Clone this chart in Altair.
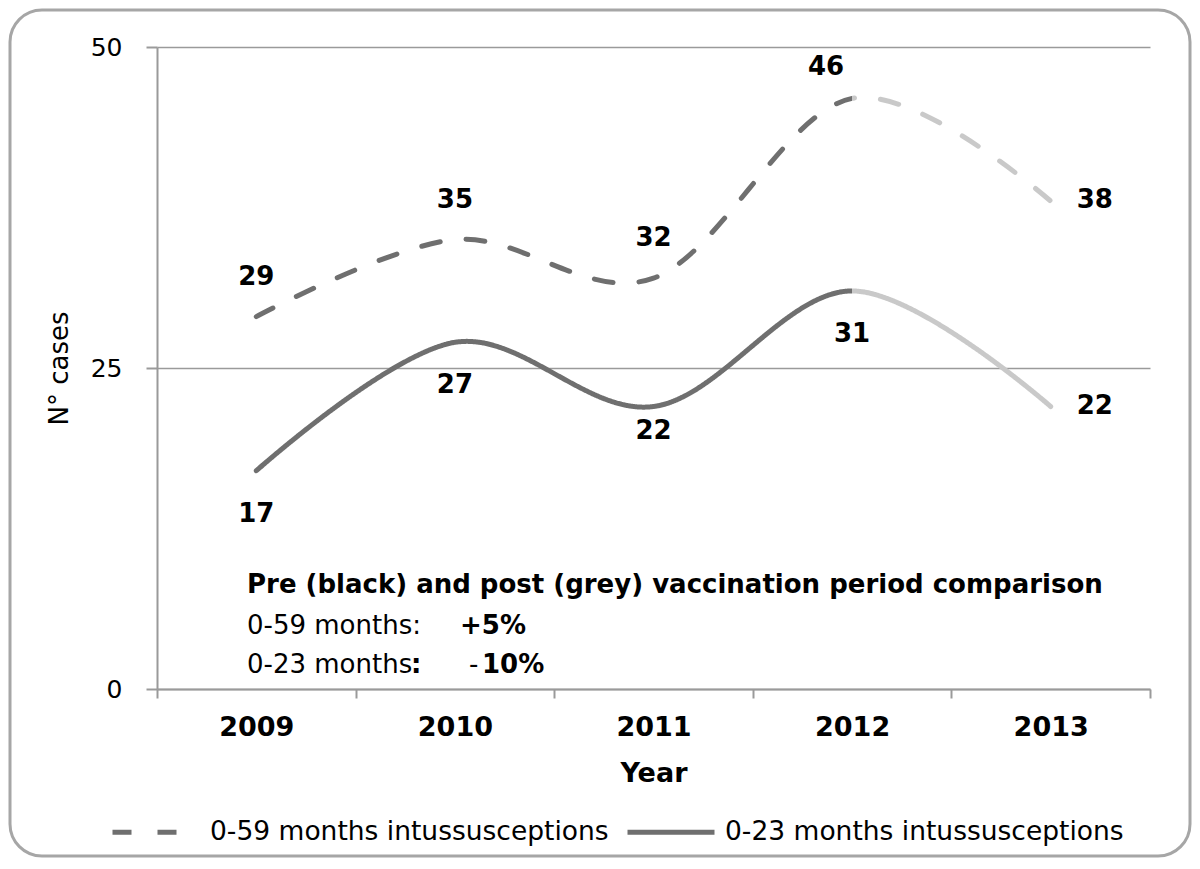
import altair as alt
import pandas as pd

# ---------------- data ----------------
years = [2009, 2010, 2011, 2012, 2013]
cases_0_59 = [29, 35, 32, 46, 38]
cases_0_23 = [17, 27, 22, 31, 22]
series_names = ["0-59 months intussusceptions", "0-23 months intussusceptions"]
y_ticks = [0, 25, 50]
x_tick_edges = [2008.5, 2009.5, 2010.5, 2011.5, 2012.5, 2013.5]
note_title = "Pre (black) and post (grey) vaccination period comparison"
note_rows = [("0-59 months:", "+5%"), ("0-23 months", "- 10%")]

rows = []
for s, vals in zip(series_names, [cases_0_59, cases_0_23]):
    for yr, v in zip(years, vals):
        rows.append({"series": s, "year": yr, "cases": v})
df = pd.DataFrame(rows)

# ---------------- style ----------------
DARK = "#6f6f6f"
LIGHT = "#c9c9c9"
AXIS = "#9a9a9a"
FONT = "DejaVu Sans"
W, H = 993, 642
PAD = {"left": 149, "top": 39, "right": 42, "bottom": 169}

S59, S23 = series_names

x_enc = alt.X(
    "year:Q",
    scale=alt.Scale(domain=[x_tick_edges[0], x_tick_edges[-1]], nice=False, zero=False),
    axis=alt.Axis(
        values=x_tick_edges,
        labelExpr="datum.value < 2013 ? toString(datum.value + 0.5) : ''",
        labelOffset=W / 10,
        labelFlush=False,
        labelOverlap=False,
        grid=False,
        tickSize=9,
        labelPadding=16,
        labelFontSize=27,
        labelFontWeight="bold",
        title="Year",
        titleFontSize=27,
        titleFontWeight="bold",
        titlePadding=20,
    ),
)
y_enc = alt.Y(
    "cases:Q",
    scale=alt.Scale(domain=[0, 50], nice=False),
    axis=alt.Axis(
        values=y_ticks,
        grid=True,
        tickSize=11,
        labelPadding=24,
        labelFontSize=25,
        title="N° cases",
        titleFontSize=26,
        titleFontWeight="normal",
        titlePadding=18,
    ),
)

grad = alt.LinearGradient(
    gradient="linear",
    stops=[
        alt.GradientStop(offset=0, color=DARK),
        alt.GradientStop(offset=0.75, color=DARK),
        alt.GradientStop(offset=0.75, color=LIGHT),
        alt.GradientStop(offset=1, color=LIGHT),
    ],
    x1=0, x2=1, y1=0, y2=0,
)

lines = alt.Chart(df).mark_line(
    interpolate="cardinal", strokeWidth=5, strokeCap="round", color=grad
).encode(
    x=x_enc,
    y=y_enc,
    strokeDash=alt.StrokeDash(
        "series:N",
        scale=alt.Scale(domain=series_names, range=[[19, 26], [1, 0]]),
        legend=alt.Legend(
            title=None,
            orient="none",
            legendX=-47,
            legendY=H + 97,
            direction="horizontal",
            symbolType="stroke",
            symbolSize=87 * 87,
            symbolStrokeWidth=5,
            symbolStrokeColor=DARK,
            labelFontSize=26.5,
            labelFont=FONT,
            labelColor="black",
            labelLimit=0,
            labelOffset=8,
            columnPadding=8,
        ),
    ),
)

base_lbl = alt.Chart(df).mark_text(
    font=FONT, fontSize=26, fontWeight="bold", color="black", baseline="middle"
).encode(x=alt.X("year:Q"), y=alt.Y("cases:Q"), text="cases:Q")

lbl_above = base_lbl.transform_filter(
    (alt.datum.series == S59) & (alt.datum.year <= 2011)
).mark_text(font=FONT, fontSize=26, fontWeight="bold", color="black", baseline="middle", dy=-40)
lbl_46 = base_lbl.transform_filter(
    (alt.datum.series == S59) & (alt.datum.year == 2012)
).mark_text(font=FONT, fontSize=26, fontWeight="bold", color="black", baseline="middle", dy=-31, dx=-26)
lbl_below = base_lbl.transform_filter(
    (alt.datum.series == S23) & (alt.datum.year != 2011) & (alt.datum.year <= 2012)
).mark_text(font=FONT, fontSize=26, fontWeight="bold", color="black", baseline="middle", dy=43)
lbl_22 = base_lbl.transform_filter(
    (alt.datum.series == S23) & (alt.datum.year == 2011)
).mark_text(font=FONT, fontSize=26, fontWeight="bold", color="black", baseline="middle", dy=24)
lbl_right = base_lbl.transform_filter(
    alt.datum.year == 2013
).mark_text(font=FONT, fontSize=26, fontWeight="bold", color="black", baseline="middle", align="left", dx=26, dy=-1)


def note(text, x, y, bold, size=26):
    return alt.Chart(pd.DataFrame({"t": [text]})).mark_text(
        align="left", baseline="alphabetic", font=FONT, fontSize=size,
        fontWeight="bold" if bold else "normal", color="black",
    ).encode(x=alt.value(x), y=alt.value(y), text="t:N")


notes = [
    note(note_title, 90, 546, True),
    note(note_rows[0][0], 90, 587, False),
    note(note_rows[0][1], 303, 587, True),
    note(note_rows[1][0], 90, 626, False),
    note(":", 254, 626, True),
    note(note_rows[1][1][0], 312, 626, False),
    note(note_rows[1][1][1:].strip(), 325, 626, True),
]

frame = alt.Chart(pd.DataFrame({"a": [0]})).mark_rect(
    fillOpacity=0, stroke="#a6a6a6", strokeWidth=3, cornerRadius=32
).encode(
    x=alt.value(-PAD["left"] + 2),
    x2=alt.value(W + PAD["right"] - 2),
    y=alt.value(-PAD["top"] + 2),
    y2=alt.value(H + PAD["bottom"] - 2),
)

chart = alt.layer(
    frame, lines, lbl_above, lbl_46, lbl_below, lbl_22, lbl_right, *notes
).properties(
    width=W, height=H, autosize="none", padding=PAD
).configure_view(stroke=None).configure_axis(
    domainColor=AXIS, domainWidth=2, tickColor=AXIS, tickWidth=2,
    gridColor=AXIS, gridWidth=1.5, labelColor="black", titleColor="black",
    labelFont=FONT, titleFont=FONT,
)

chart.save("out.html", embed_options={"renderer": "svg", "actions": False})
